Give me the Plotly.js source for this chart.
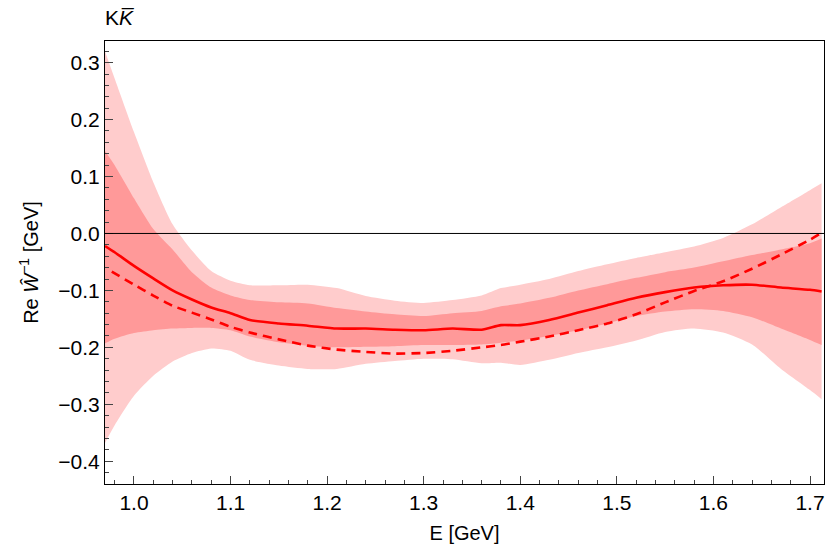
<!DOCTYPE html>
<html><head><meta charset="utf-8">
<script src="https://cdn.plot.ly/plotly-3.0.1.min.js"></script>
<style>html,body{margin:0;padding:0;background:#fff}#plot{width:830px;height:552px}</style>
</head><body><div id="plot"></div>
<script>
const energy = [0.97,0.98,1.00,1.02,1.04,1.06,1.08,1.10,1.12,1.15,1.18,1.21,1.24,1.27,1.30,1.33,1.36,1.38,1.40,1.43,1.46,1.49,1.52,1.55,1.58,1.61,1.64,1.67,1.70,1.712];
const outerUpper = [0.32,0.272,0.178,0.09,0.016,-0.03,-0.066,-0.083,-0.091,-0.091,-0.090,-0.096,-0.110,-0.118,-0.122,-0.117,-0.109,-0.096,-0.090,-0.080,-0.066,-0.054,-0.043,-0.033,-0.023,-0.008,0.016,0.046,0.076,0.088];
const innerUpper = [0.145,0.12,0.062,0.008,-0.028,-0.068,-0.095,-0.109,-0.117,-0.121,-0.123,-0.131,-0.137,-0.142,-0.145,-0.140,-0.136,-0.128,-0.123,-0.113,-0.100,-0.089,-0.078,-0.068,-0.060,-0.049,-0.038,-0.028,-0.017,-0.009];
const central = [-0.022,-0.033,-0.057,-0.079,-0.100,-0.116,-0.130,-0.140,-0.152,-0.158,-0.162,-0.167,-0.167,-0.169,-0.170,-0.167,-0.169,-0.161,-0.161,-0.152,-0.139,-0.126,-0.113,-0.103,-0.095,-0.091,-0.090,-0.095,-0.099,-0.102];
const innerLower = [-0.193,-0.185,-0.175,-0.170,-0.167,-0.166,-0.166,-0.170,-0.181,-0.191,-0.197,-0.200,-0.199,-0.198,-0.196,-0.196,-0.195,-0.192,-0.188,-0.180,-0.170,-0.158,-0.145,-0.137,-0.133,-0.136,-0.147,-0.167,-0.187,-0.196];
const outerLower = [-0.368,-0.337,-0.285,-0.25,-0.225,-0.21,-0.202,-0.206,-0.222,-0.232,-0.238,-0.238,-0.229,-0.224,-0.220,-0.221,-0.228,-0.227,-0.231,-0.222,-0.210,-0.200,-0.188,-0.173,-0.167,-0.174,-0.195,-0.238,-0.275,-0.291];
const energyDashed = [0.977,1.00,1.02,1.04,1.06,1.08,1.10,1.12,1.15,1.18,1.21,1.24,1.27,1.30,1.33,1.36,1.38,1.40,1.43,1.46,1.49,1.52,1.55,1.58,1.61,1.64,1.67,1.70,1.712];
const dashed = [-0.067,-0.090,-0.109,-0.127,-0.139,-0.151,-0.164,-0.174,-0.186,-0.197,-0.204,-0.208,-0.211,-0.210,-0.206,-0.200,-0.196,-0.190,-0.181,-0.170,-0.158,-0.142,-0.121,-0.101,-0.084,-0.062,-0.037,-0.011,0.001];
const xTicks = [1.0,1.1,1.2,1.3,1.4,1.5,1.6,1.7];
const yTicks = [-0.4,-0.3,-0.2,-0.1,0.0,0.1,0.2,0.3];

const light = 'rgb(255,204,204)', dark = 'rgb(255,153,153)';
const sm = {shape:'spline', smoothing:0.6};
const traces = [
  {x:energy, y:outerLower, mode:'lines', line:Object.assign({width:0,color:light},sm), hoverinfo:'skip', showlegend:false},
  {x:energy, y:outerUpper, mode:'lines', fill:'tonexty', fillcolor:light, line:Object.assign({width:0,color:light},sm), showlegend:false},
  {x:energy, y:innerLower, mode:'lines', line:Object.assign({width:0,color:dark},sm), showlegend:false},
  {x:energy, y:innerUpper, mode:'lines', fill:'tonexty', fillcolor:dark, line:Object.assign({width:0,color:dark},sm), showlegend:false},
  {x:energy, y:central, mode:'lines', line:Object.assign({width:2.6,color:'rgb(255,0,0)'},sm), showlegend:false},
  {x:energyDashed, y:dashed, mode:'lines', line:Object.assign({width:2.6,color:'rgb(255,0,0)',dash:'9px,6px'},sm), showlegend:false}
];
const tickFont = {family:'Liberation Sans, Arial, sans-serif', size:21, color:'#000'};
const layout = {
  width:830, height:552,
  margin:{l:105, r:6, t:41, b:68},
  paper_bgcolor:'#fff', plot_bgcolor:'#fff',
  font:{family:'Liberation Sans, Arial, sans-serif', color:'#000'},
  title:{text:'K<i>K̅</i>', font:{size:21, color:'#000'}, xref:'paper', x:0, xanchor:'left', yref:'container', y:0.968, yanchor:'middle'},
  xaxis:{range:[0.97,1.7145], tickvals:xTicks, ticktext:xTicks.map(v=>v.toFixed(1)), ticks:'inside', ticklen:8, tickwidth:1, tickcolor:'#444',
    minor:{dtick:0.02, ticks:'inside', ticklen:4, tickcolor:'#444', showgrid:false},
    showgrid:false, zeroline:false, showline:true, linecolor:'#000', linewidth:1, mirror:true, tickfont:tickFont,
    title:{text:'E [GeV]', font:{size:20, color:'#000'}, standoff:12}},
  yaxis:{range:[-0.44,0.338], tickvals:yTicks, ticktext:yTicks.map(v=>(v<0?'\u2212':'')+Math.abs(v).toFixed(1)), ticks:'inside', ticklen:8, tickwidth:1, tickcolor:'#444',
    minor:{dtick:0.02, ticks:'inside', ticklen:4, tickcolor:'#444', showgrid:false},
    showgrid:false, zeroline:false, showline:true, linecolor:'#000', linewidth:1, mirror:true, tickfont:tickFont,
    title:{text:'Re <i>Ŵ</i><sup>\u22121</sup> [GeV]', font:{size:20, color:'#000'}, standoff:14}},
  shapes:[{type:'line', xref:'paper', x0:0, x1:1, yref:'y', y0:0, y1:0, line:{color:'#000', width:1}, layer:'above'}]
};
Plotly.newPlot('plot', traces, layout, {displayModeBar:false, staticPlot:true});
</script></body></html>
